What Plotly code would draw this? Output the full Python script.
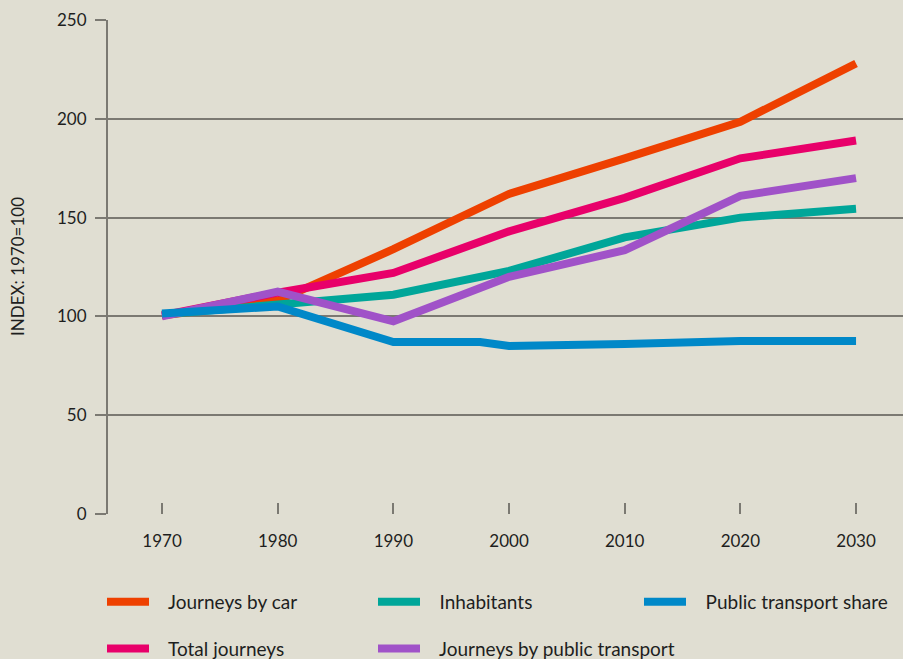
import plotly.graph_objects as go

# ---- data ----
years = [1970, 1980, 1990, 2000, 2010, 2020, 2030]
car = [100.5, 108, 134, 162, 180, 198.5, 228]
total = [100.5, 112, 122, 143, 160, 180, 189]
inhabitants = [101, 105.5, 111, 123, 140, 150, 154.5]
pt_journeys = [100, 112.5, 97.5, 120, 133.5, 161, 170]
share_years = [1970, 1980, 1990, 1997.5, 2000, 2006, 2010, 2020, 2030]
share = [101.5, 105, 87, 87, 85, 85, 86, 87.5, 87.5]

tick_years = [1970, 1980, 1990, 2000, 2010, 2020, 2030]
y_ticks = [0, 50, 100, 150, 200, 250]
y_title = "INDEX: 1970=100"

BG = "#E0DED2"
GRID = "#7B7972"
FONT = "Lato"
TXT = "#1E1E1E"
PAD = "\u00a0\u00a0\u00a0"

series = [
    # name, x, y, colour, legend (column)
    ("Journeys by car", years, car, "#EE4000", "legend"),
    ("Total journeys", years, total, "#E8006A", "legend"),
    ("Inhabitants", years, inhabitants, "#00A699", "legend2"),
    ("Journeys by public transport", years, pt_journeys, "#A052C8", "legend2"),
    ("Public transport share", share_years, share, "#0088C8", "legend3"),
]

fig = go.Figure()
for i, (name, xs, ys, col, leg) in enumerate(series):
    fig.add_trace(go.Scatter(
        x=xs, y=ys, name=PAD + name, mode="lines",
        line=dict(color=col, width=8),
        legend=leg, legendgroup="g%d" % i,
        cliponaxis=False,
    ))

H = 659.0
W = 903.0
L, R, T, B = 108, 0, 20, 145


def leg(xpx):
    return dict(
        orientation="v", xref="container", yref="container",
        x=xpx / W, xanchor="left", y=1 - 583 / H, yanchor="top",
        itemwidth=42, tracegroupgap=19,
        font=dict(family=FONT, size=19, color=TXT), bgcolor="rgba(0,0,0,0)",
    )


fig.update_layout(
    width=903, height=659,
    paper_bgcolor=BG, plot_bgcolor=BG,
    margin=dict(l=L, r=R, t=T, b=B, autoexpand=False),
    font=dict(family=FONT, size=16, color=TXT),
    legend=leg(102),
    legend2=leg(373),
    legend3=leg(639),
    annotations=[dict(
        text=y_title, textangle=-90, showarrow=False,
        xref="paper", yref="paper", x=(17 - L) / (W - L - R), y=0.5,
        xanchor="center", yanchor="middle",
        font=dict(family=FONT, size=17, color=TXT),
    )],
)

fig.update_xaxes(
    range=[1965.33, 2034.06],
    tickmode="array", tickvals=tick_years, ticktext=[str(v) for v in tick_years],
    ticks="inside", ticklen=11, tickwidth=2, tickcolor=GRID,
    showgrid=False, zeroline=False, showline=False,
    ticklabelstandoff=15,
    tickfont=dict(family=FONT, size=17, color=TXT),
)
fig.update_yaxes(
    range=[0, 250],
    tickmode="array", tickvals=y_ticks, ticktext=[str(v) for v in y_ticks],
    ticks="outside", ticklen=11, tickwidth=2, tickcolor=GRID,
    showgrid=True, gridcolor=GRID, gridwidth=2,
    zeroline=False, showline=True, linecolor=GRID, linewidth=2,
    ticklabelstandoff=5,
    tickfont=dict(family=FONT, size=17, color=TXT),
)

fig.write_html("out.html", config={"displayModeBar": False},
               post_script="document.body.style.margin='0';")
